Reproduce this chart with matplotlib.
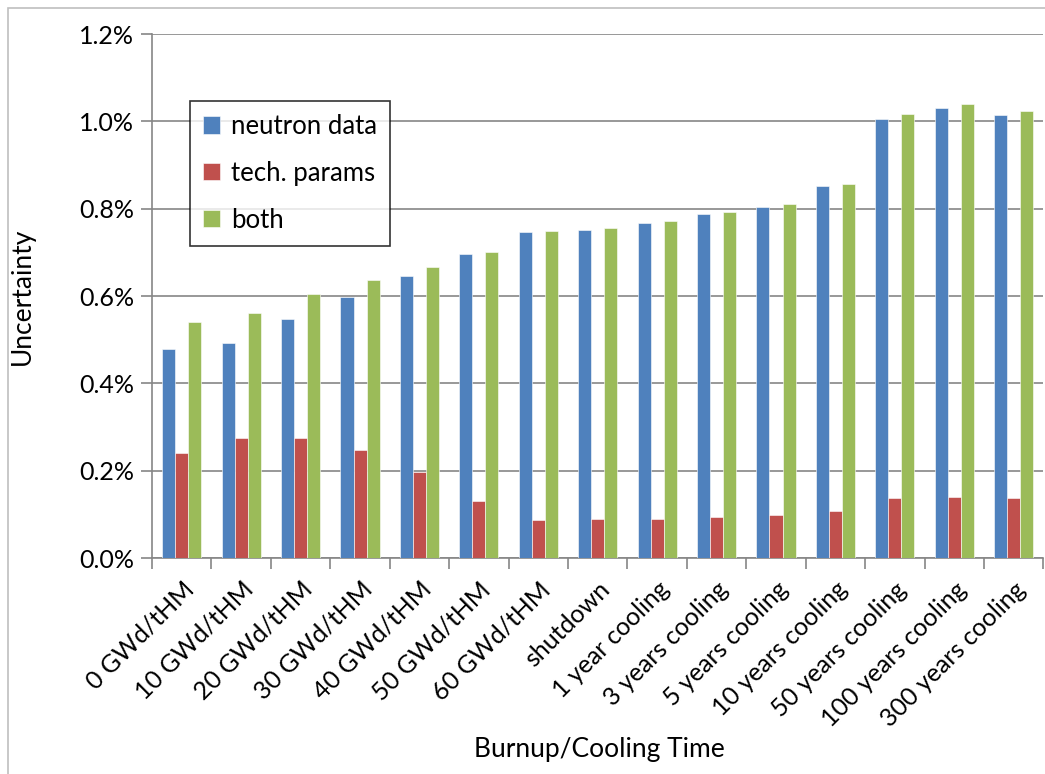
import matplotlib
matplotlib.use('Agg')
import matplotlib.pyplot as plt
import numpy as np
from matplotlib.patches import Rectangle
from matplotlib.ticker import FuncFormatter, FixedLocator

plt.rcParams['font.family'] = ['Lato', 'DejaVu Sans']

categories = ['0 GWd/tHM', '10 GWd/tHM', '20 GWd/tHM', '30 GWd/tHM', '40 GWd/tHM',
              '50 GWd/tHM', '60 GWd/tHM', 'shutdown', '1 year cooling', '3 years cooling',
              '5 years cooling', '10 years cooling', '50 years cooling', '100 years cooling',
              '300 years cooling']
neutron_data = [0.478, 0.492, 0.547, 0.597, 0.645, 0.696, 0.746, 0.751, 0.767, 0.787,
                0.805, 0.851, 1.005, 1.030, 1.014]
tech_params = [0.240, 0.275, 0.275, 0.247, 0.197, 0.130, 0.087, 0.089, 0.089, 0.094,
               0.098, 0.108, 0.137, 0.140, 0.137]
both = [0.540, 0.561, 0.604, 0.636, 0.666, 0.700, 0.748, 0.755, 0.771, 0.792,
        0.810, 0.856, 1.016, 1.039, 1.023]

colors = ['#4F81BD', '#C0504D', '#9BBB59']
names = ['neutron data', 'tech. params', 'both']

fig = plt.figure(figsize=(10.45, 7.74), dpi=100)
ax = fig.add_axes([0.1455, 0.279, 0.853, 0.677])

x = np.arange(len(categories))
w = 0.22
for k, (vals, c, n) in enumerate(zip([neutron_data, tech_params, both], colors, names)):
    ax.bar(x + (k - 1) * w, vals, w, color=c, label=n, edgecolor='white', linewidth=0.4, zorder=3)

ax.set_xlim(-0.5, len(categories) - 0.5)
ax.set_ylim(0, 1.2)
ax.set_yticks(np.arange(0, 1.21, 0.2))
ax.yaxis.set_major_formatter(FuncFormatter(lambda v, p: '%.1f%%' % v))
ax.grid(axis='y', color='#868686', linewidth=1.2, zorder=0)

ax.set_xticks(x)
ax.set_xticklabels(categories, rotation=45, ha='right', rotation_mode='anchor')
ax.xaxis.set_minor_locator(FixedLocator(np.arange(-0.5, len(categories), 1.0)))
ax.tick_params(axis='x', which='major', length=0, pad=14, labelsize=18)
ax.tick_params(axis='x', which='minor', length=8, color='#868686', width=1.2)
ax.tick_params(axis='y', length=8, color='#868686', width=1.2, labelsize=18, pad=5)

for s in ['top', 'right']:
    ax.spines[s].set_visible(False)
for s in ['left', 'bottom']:
    ax.spines[s].set_color('#868686')
    ax.spines[s].set_linewidth(1.2)

ax.set_ylabel('Uncertainty', fontsize=19)
ax.yaxis.set_label_coords(-0.132, 0.5)
ax.set_xlabel('Burnup/Cooling Time', fontsize=19, va='center')
ax.xaxis.set_label_coords(0.502, -0.366)

leg = ax.legend(loc='upper left', bbox_to_anchor=(0.043, 0.872), fontsize=18.5, frameon=True,
                fancybox=False, edgecolor='black', handlelength=0.65, handleheight=0.65,
                labelspacing=0.85, borderpad=0.5, handletextpad=0.45, borderaxespad=0)
leg.get_frame().set_linewidth(1.2)
leg.set_zorder(5)

fig.patches.append(Rectangle((0.008, -0.01), 1.1, 1.0, transform=fig.transFigure,
                             fill=False, edgecolor='#BFBFBF', linewidth=1.2))

fig.savefig('out.png', dpi=100)
